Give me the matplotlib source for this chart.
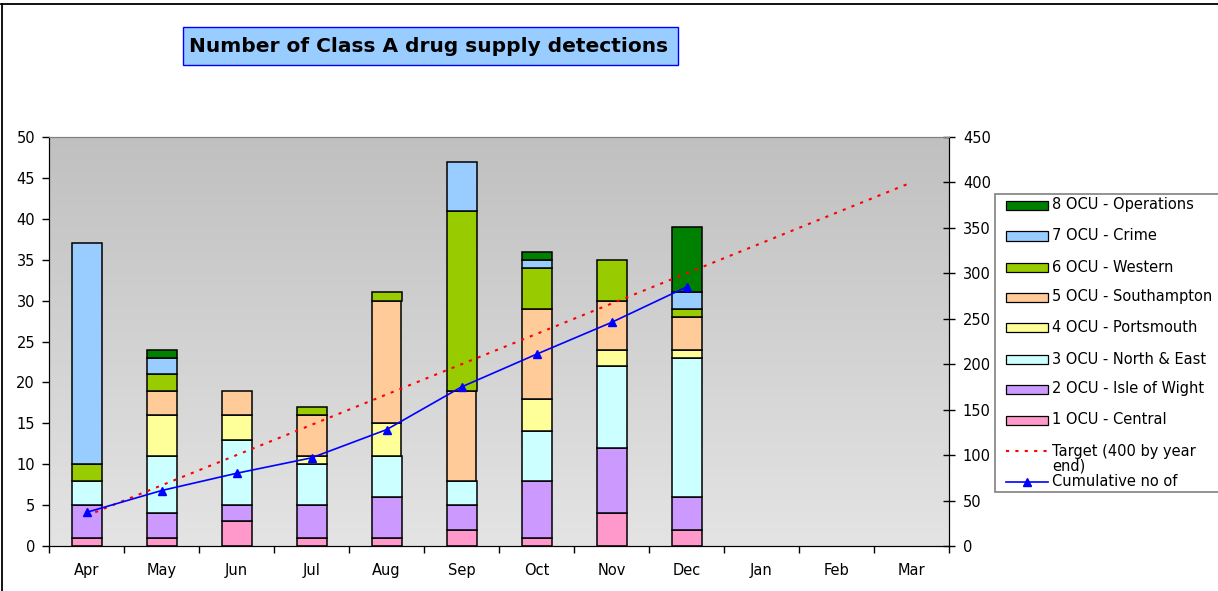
import matplotlib.pyplot as plt
import numpy as np
from matplotlib.colors import LinearSegmentedColormap
from matplotlib.lines import Line2D
from matplotlib.patches import Rectangle

W, H = 1218, 591
DPI = 100

months = ["Apr", "May", "Jun", "Jul", "Aug", "Sep", "Oct", "Nov", "Dec", "Jan", "Feb", "Mar"]

# detections per OCU, Apr..Dec (Jan-Mar not yet reported)
central = [1, 1, 3, 1, 1, 2, 1, 4, 2]
isle_of_wight = [4, 3, 2, 4, 5, 3, 7, 8, 4]
north_east = [3, 7, 8, 5, 5, 3, 6, 10, 17]
portsmouth = [0, 5, 3, 1, 4, 0, 4, 2, 1]
southampton = [0, 3, 3, 5, 15, 11, 11, 6, 4]
western = [2, 2, 0, 1, 1, 22, 5, 5, 1]
crime = [27, 2, 0, 0, 0, 6, 1, 0, 2]
operations = [0, 1, 0, 0, 0, 0, 1, 0, 8]

cumulative = [37, 61, 80, 97, 128, 175, 211, 246, 285]
target = [33.3, 66.7, 100, 133.3, 166.7, 200, 233.3, 266.7, 300, 333.3, 366.7, 400]

series = [
    ("1 OCU - Central", central, "#FF99CC"),
    ("2 OCU - Isle of Wight", isle_of_wight, "#CC99FF"),
    ("3 OCU - North & East", north_east, "#CCFFFF"),
    ("4 OCU - Portsmouth", portsmouth, "#FFFF99"),
    ("5 OCU - Southampton", southampton, "#FFCC99"),
    ("6 OCU - Western", western, "#99CC00"),
    ("7 OCU - Crime", crime, "#99CCFF"),
    ("8 OCU - Operations", operations, "#008000"),
]

FONT = "DejaVu Sans"
TICK_FS = 10.5
LEG_FS = 10.5


def fx(x):
    return x / W


def fy(y):
    return 1 - y / H


fig = plt.figure(figsize=(W / DPI, H / DPI), dpi=DPI)
ax = fig.add_axes([fx(49), fy(546), (949 - 49) / W, (546 - 137) / H])
ax2 = ax.twinx()

# grey gradient plot area
grad = np.linspace(0, 1, 256).reshape(-1, 1)
bg_cmap = LinearSegmentedColormap.from_list("bg", ["#C0C0C0", "#E4E4E4"])
ax.imshow(grad, extent=[-0.5, 11.5, 0, 50], aspect="auto", origin="upper",
          cmap=bg_cmap, zorder=0)

x = np.arange(len(months))
bottom = np.zeros(len(central))
for label, vals, color in series:
    vals = np.asarray(vals, dtype=float)
    mask = vals > 0
    ax.bar(x[:len(vals)][mask], vals[mask], bottom=bottom[mask], width=0.4,
           color=color, edgecolor="black", linewidth=1.1, zorder=2)
    bottom += vals

ax.set_xlim(-0.5, 11.5)
ax.set_ylim(0, 50)
ax.set_yticks(np.arange(0, 51, 5))
ax.set_xticks(np.arange(-0.5, 12, 1), minor=False)
ax.set_xticklabels([])
ax.set_xticks(x, minor=True)
ax.set_xticklabels(months, minor=True, fontsize=TICK_FS, fontfamily=FONT)
ax.tick_params(axis="x", which="major", direction="out", length=5, width=1)
ax.tick_params(axis="x", which="minor", length=0, pad=12)
ax.tick_params(axis="y", direction="out", length=5, width=1, pad=5, labelsize=TICK_FS)
for t in ax.get_yticklabels():
    t.set_fontfamily(FONT)

ax2.plot(np.arange(len(target)), target, color="red", linestyle=(0, (1.5, 3)),
         linewidth=1.5, zorder=3)
ax2.plot(x[:len(cumulative)], cumulative, color="blue", linewidth=1.2,
         marker="^", markersize=6, zorder=4)
ax2.set_ylim(0, 450)
ax2.set_yticks(np.arange(0, 451, 50))
ax2.tick_params(axis="y", direction="inout", length=8, width=1, pad=6, labelsize=TICK_FS)
for t in ax2.get_yticklabels():
    t.set_fontfamily(FONT)

for a in (ax, ax2):
    a.spines["top"].set_color("#808080")
    a.spines["left"].set_color("black")
    a.spines["right"].set_color("black")
    a.spines["bottom"].set_color("black")

# title box
fig.add_artist(Rectangle((fx(183), fy(65)), (678 - 183) / W, (65 - 27) / H,
                         transform=fig.transFigure, facecolor="#99CCFF",
                         edgecolor="#0000FF", linewidth=1))
fig.text(fx(429), fy(46), "Number of Class A drug supply detections",
         ha="center", va="center", fontsize=14.5, fontweight="bold",
         fontfamily="DejaVu Sans")

# chart border
fig.add_artist(Line2D([fx(1), fx(W)], [fy(4), fy(4)], transform=fig.transFigure,
                      color="black", linewidth=1.3))
fig.add_artist(Line2D([fx(1.5), fx(1.5)], [fy(4), fy(H)], transform=fig.transFigure,
                      color="black", linewidth=1.3))

# legend
fig.add_artist(Rectangle((fx(995), fy(492)), (1240 - 995) / W, (492 - 194) / H,
                         transform=fig.transFigure, facecolor="white",
                         edgecolor="#808080", linewidth=1.2))
leg_y = [420, 389, 359, 327, 297, 267, 236, 205]
for (label, _, color), yc in zip(series, leg_y):
    fig.add_artist(Rectangle((fx(1006), fy(yc + 4.5)), 42 / W, 9 / H,
                             transform=fig.transFigure, facecolor=color,
                             edgecolor="black", linewidth=0.9))
    fig.text(fx(1052), fy(yc), label, ha="left", va="center",
             fontsize=LEG_FS, fontfamily=FONT)

fig.add_artist(Line2D([fx(1006), fx(1048)], [fy(451), fy(451)], transform=fig.transFigure,
                      color="red", linestyle=(0, (1.5, 3)), linewidth=1.5))
fig.text(fx(1052), fy(459), "Target (400 by year\nend)", ha="left", va="center",
         fontsize=LEG_FS, fontfamily=FONT, linespacing=0.95)
fig.add_artist(Line2D([fx(1006), fx(1048)], [fy(482), fy(482)], transform=fig.transFigure,
                      color="blue", linewidth=1.2))
fig.add_artist(Line2D([fx(1027)], [fy(482)], transform=fig.transFigure,
                      color="blue", marker="^", markersize=6, linestyle="none"))
fig.text(fx(1052), fy(482), "Cumulative no of", ha="left", va="center",
         fontsize=LEG_FS, fontfamily=FONT)

fig.savefig("out.png", dpi=DPI)
